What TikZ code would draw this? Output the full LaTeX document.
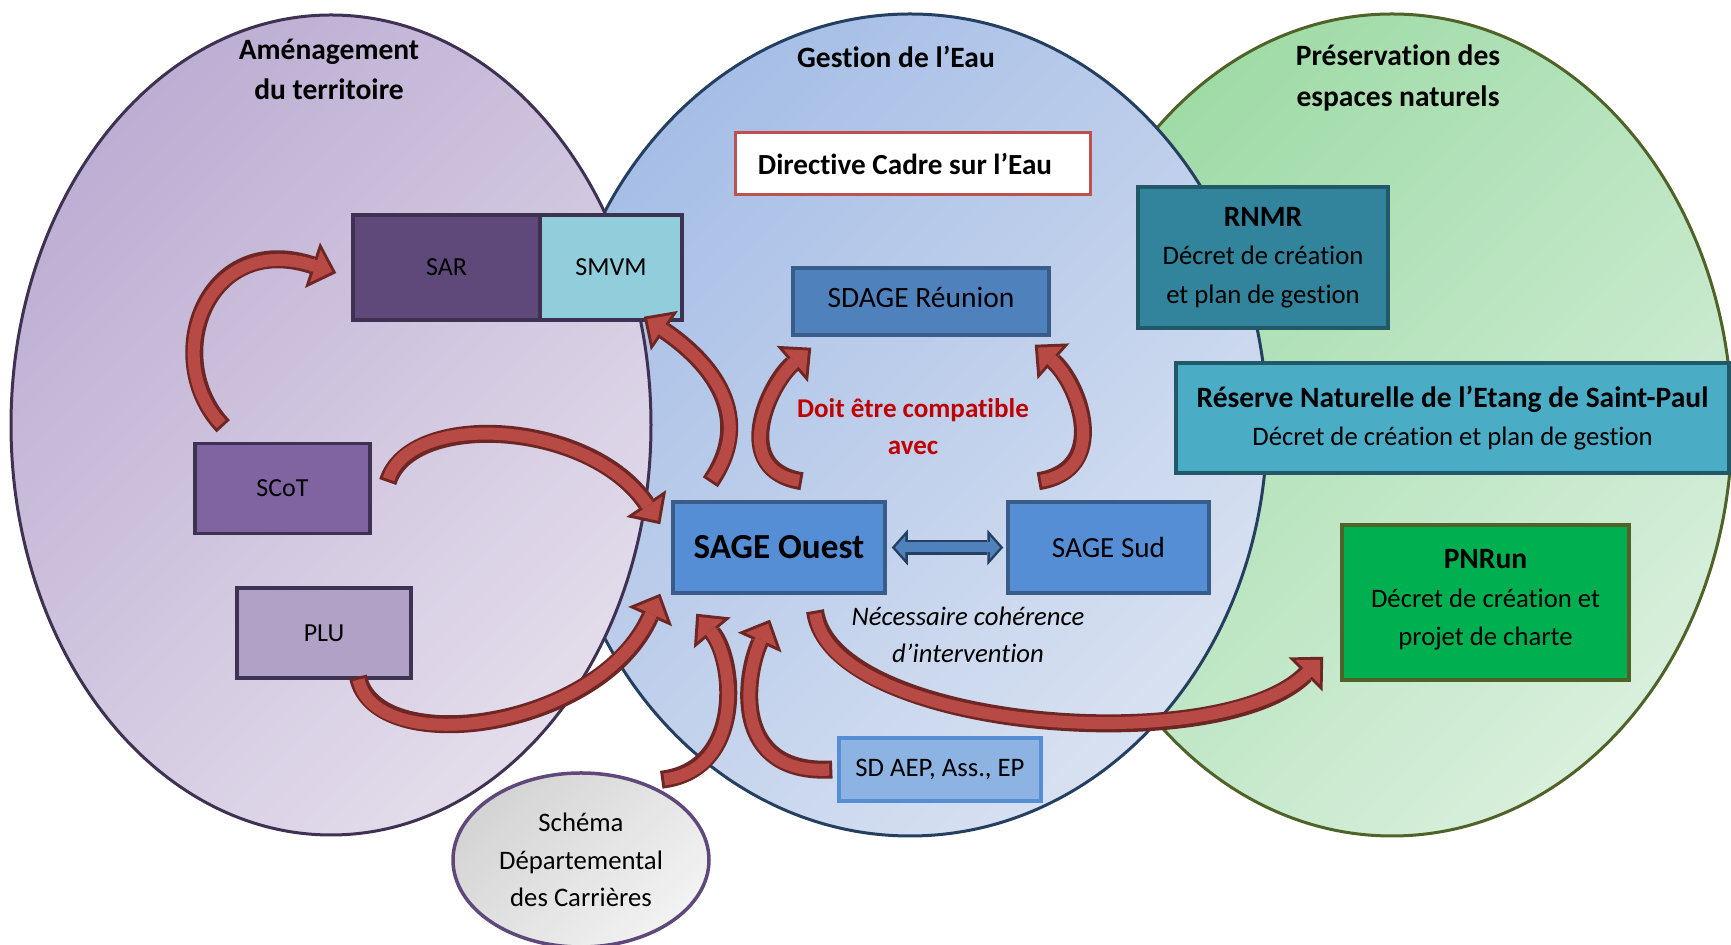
\documentclass[tikz,border=0pt]{standalone}
\usepackage{fontspec}
\setmainfont{Carlito}[Ligatures={TeX,NoCommon}]
\usetikzlibrary{arrows.meta,shapes.geometric,positioning}

\definecolor{amenline}{HTML}{3F3151}
\definecolor{amentop}{HTML}{BDAED3}
\definecolor{amenbot}{HTML}{E3DDEB}
\definecolor{eauline}{HTML}{243F60}
\definecolor{eautop}{HTML}{A6BEE6}
\definecolor{eaubot}{HTML}{D8E1F1}
\definecolor{natline}{HTML}{4F6228}
\definecolor{nattop}{HTML}{9FDBA7}
\definecolor{natbot}{HTML}{D8EFDC}
\definecolor{sarfill}{HTML}{5F497A}
\definecolor{smvmfill}{HTML}{92CDDC}
\definecolor{scotfill}{HTML}{8064A2}
\definecolor{plufill}{HTML}{B2A1C7}
\definecolor{dcered}{HTML}{C0504D}
\definecolor{sdagefill}{HTML}{4F81BD}
\definecolor{sageline}{HTML}{385D8A}
\definecolor{sagefill}{HTML}{558ED5}
\definecolor{sdfill}{HTML}{8DB3E2}
\definecolor{rnmrfill}{HTML}{31849B}
\definecolor{tealline}{HTML}{215968}
\definecolor{rnfill}{HTML}{4BACC6}
\definecolor{pnfill}{HTML}{00B050}
\definecolor{arrowred}{HTML}{B84A46}
\definecolor{arrowdark}{HTML}{6E2624}
\definecolor{compred}{HTML}{C00000}

\begin{document}
\begin{tikzpicture}[
  box/.style={draw=#1, line width=0.35mm, inner sep=0pt, align=center,
    font=\fontsize{7.6}{11}\selectfont},
  title/.style={align=center, font=\bfseries\fontsize{8.4}{11.4}\selectfont},
  zone/.style={draw=#1, line width=0.3mm},
  redarrow/.style={draw=arrowred, line width=1.2mm, shorten <=0.3mm, shorten >=0.43mm,
    -{Triangle[length=1.77mm,width=3.4mm,line width=0pt]},
    preaction={draw=arrowdark, line width=1.8mm, shorten <=0mm, shorten >=0mm,
      -{Triangle[length=2.5mm,width=4.8mm,line width=0pt]}}},
  bluearrow/.style={draw=sdagefill, line width=1mm, shorten <=0.33mm, shorten >=0.33mm,
    {Triangle[length=1.02mm,width=2.3mm,line width=0pt]}-{Triangle[length=1.02mm,width=2.3mm,line width=0pt]},
    preaction={draw=eauline, line width=1.5mm, shorten <=0mm, shorten >=0mm,
      {Triangle[length=1.6mm,width=3.6mm,line width=0pt]}-{Triangle[length=1.6mm,width=3.6mm,line width=0pt]}}}
]
\useasboundingbox (0,0) rectangle (17.31,-9.45);
\clip (0,0) rectangle (17.31,-9.45);

\draw[zone=natline, top color=nattop, bottom color=natbot, shading angle=45]
  (13.92,-4.25) ellipse [x radius=3.40, y radius=4.11];
\draw[zone=eauline, top color=eautop, bottom color=eaubot, shading angle=45]
  (9.10,-4.25) ellipse [x radius=3.57, y radius=4.11];
\draw[zone=amenline, top color=amentop, bottom color=amenbot, shading angle=45]
  (3.31,-4.25) ellipse [x radius=3.20, y radius=4.10];

\node[title] (amen) at (3.29,-0.695) {Aménagement\\du territoire};
\node[title] (eau) at (8.96,-0.565) {Gestion de l’Eau};
\node[title] (nat) at (13.98,-0.78) {Préservation des\\espaces naturels};

\node[box=amenline, fill=sarfill, minimum width=1.87cm, minimum height=1.05cm,
  font=\fontsize{7.4}{9}\selectfont] (sar) at (4.465,-2.675) {SAR};
\node[box=amenline, fill=smvmfill, minimum width=1.42cm, minimum height=1.05cm,
  font=\fontsize{7.4}{9}\selectfont] (smvm) [node distance=1.645cm, right of=sar] {SMVM};
\node[box=amenline, fill=scotfill, minimum width=1.75cm, minimum height=0.9cm,
  font=\fontsize{7.4}{9}\selectfont] (scot) at (2.825,-4.885) {SCoT};
\node[box=amenline, fill=plufill, minimum width=1.74cm, minimum height=0.9cm,
  font=\fontsize{7.4}{9}\selectfont] (plu) at (3.24,-6.33) {PLU};

\node[box=dcered, fill=white, line width=0.3mm, minimum width=3.55cm, minimum height=0.62cm,
  font=\bfseries\fontsize{8.3}{10}\selectfont] (dce) at (9.125,-1.64) {Directive Cadre sur l’Eau\hspace{1.5mm}};
\node[box=sageline, fill=sdagefill, minimum width=2.56cm, minimum height=0.67cm,
  font=\fontsize{8.4}{10}\selectfont] (sdage) at (9.21,-3.015) {SDAGE Réunion\rule[-0.8mm]{0pt}{0pt}};
\node[text=compred, align=center, font=\bfseries\fontsize{7.7}{10.5}\selectfont]
  (compat) at (9.13,-4.265) {Doit être compatible\\avec};
\node[box=sageline, fill=sagefill, minimum width=2.12cm, minimum height=0.91cm,
  font=\bfseries\fontsize{10}{12}\selectfont] (sageouest) at (7.79,-5.475) {SAGE Ouest};
\node[box=sageline, fill=sagefill, minimum width=2.01cm, minimum height=0.91cm,
  font=\fontsize{8.3}{10}\selectfont] (sagesud) [node distance=3.295cm, right of=sageouest] {SAGE Sud};
\node[align=center, font=\itshape\fontsize{7.6}{10.4}\selectfont]
  (coher) at (9.68,-6.35) {Nécessaire cohérence\\d’intervention};
\node[box=sagefill, fill=sdfill, minimum width=2.02cm, minimum height=0.63cm] (sdaep) at (9.40,-7.695) {SD AEP, Ass., EP};

\node[box=tealline, fill=rnmrfill, minimum width=2.5cm, minimum height=1.41cm] (rnmr) at (12.63,-2.575)
  {{\bfseries\fontsize{8.4}{11}\selectfont RNMR}\\Décret de création\\et plan de gestion};
\node[box=tealline, fill=rnfill, minimum width=5.53cm, minimum height=1.10cm] (rnsp) at (14.525,-4.18)
  {{\bfseries\fontsize{8.4}{11}\selectfont Réserve Naturelle de l’Etang de Saint-Paul}\\Décret de création et plan de gestion};
\node[box=natline, fill=pnfill, minimum width=2.87cm, minimum height=1.55cm] (pnrun) at (14.855,-6.025)
  {{\bfseries\fontsize{8.4}{11}\selectfont PNRun}\\Décret de création et\\projet de charte\rule[-1mm]{0pt}{0pt}};

\node[ellipse, box=sarfill, top color=black!17, bottom color=black!5, shading angle=45,
  minimum width=2.56cm, minimum height=1.74cm, font=\fontsize{7.6}{10.7}\selectfont]
  (schema) at (5.81,-8.6) {Schéma\\Départemental\\des Carrières};

\draw[redarrow] ([shift={(0.30,0.155)}]scot.north west) .. controls (1.6,-3.6) and (2.05,-2.3) .. ([shift={(-0.15,-0.055)}]sar.west);
\draw[redarrow] ([shift={(0.16,0.065)}]scot.east) .. controls (4.1,-4.1) and (5.9,-4.2) .. ([shift={(-0.11,-0.24)}]sageouest.north west);
\draw[redarrow] ([shift={(0.34,0.03)}]plu.south) .. controls (3.75,-7.6) and (6.0,-7.3) .. ([shift={(-0.11,0.01)}]sageouest.south west);
\draw[redarrow] ([shift={(0.39,0.18)}]sageouest.north west) .. controls (7.6,-4.1) and (7.0,-3.55) .. ([shift={(-0.40,0.05)}]smvm.south east);
\draw[redarrow] ([shift={(0.23,0.19)}]sageouest.north) .. controls (7.3,-4.7) and (7.68,-3.85) .. ([shift={(0.20,-0.11)}]sdage.south west);
\draw[redarrow] ([shift={(0.32,0.19)}]sagesud.north west) .. controls (11.1,-4.7) and (10.8,-3.85) .. ([shift={(-0.16,-0.08)}]sdage.south east);
\draw[redarrow] ([shift={(0.36,-0.16)}]sageouest.south) .. controls (8.3,-7.3) and (12.2,-7.6) .. ([shift={(-0.17,0.25)}]pnrun.south west);
\draw[redarrow] ([shift={(0.07,0.07)}]schema.45) .. controls (7.45,-7.7) and (7.35,-6.6) .. ([shift={(0.25,-0.19)}]sageouest.south west);
\draw[redarrow] ([shift={(-0.05,0)}]sdaep.west) .. controls (7.3,-7.75) and (7.45,-6.75) .. ([shift={(-0.09,-0.25)}]sageouest.south);
\draw[bluearrow] ([xshift=0.05cm]sageouest.east) -- ([xshift=-0.03cm]sagesud.west);

\end{tikzpicture}
\end{document}
